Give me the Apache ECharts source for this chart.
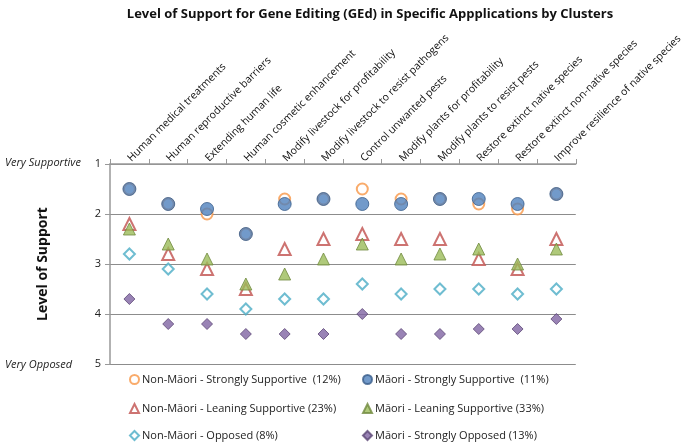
<!DOCTYPE html>
<html><head><meta charset="utf-8">
<script src="https://cdn.jsdelivr.net/npm/echarts@6/dist/echarts.min.js"></script>
<style>html,body{margin:0;padding:0;background:#fff}#c{width:685px;height:442px}</style>
</head><body><div id="c"></div>
<script>
const categories = ["Human medical treatments","Human reproductive barriers","Extending human life","Human cosmetic enhancement","Modify livestock for profitability","Modify livestock to resist pathogens","Control unwanted pests","Modify plants for profitability","Modify plants to resist pests","Restore extinct native species","Restore extinct non-native species","Improve resilience of native species"];
const nonMaoriStrongSupport = [1.5,1.8,2.0,2.4,1.7,1.7,1.5,1.7,1.7,1.8,1.9,1.6];
const maoriStrongSupport    = [1.5,1.8,1.9,2.4,1.8,1.7,1.8,1.8,1.7,1.7,1.8,1.6];
const nonMaoriLeaning       = [2.2,2.8,3.1,3.5,2.7,2.5,2.4,2.5,2.5,2.9,3.1,2.5];
const maoriLeaning          = [2.3,2.6,2.9,3.4,3.2,2.9,2.6,2.9,2.8,2.7,3.0,2.7];
const nonMaoriOpposed       = [2.8,3.1,3.6,3.9,3.7,3.7,3.4,3.6,3.5,3.5,3.6,3.5];
const maoriStrongOpposed    = [3.7,4.2,4.2,4.4,4.4,4.4,4.0,4.4,4.4,4.3,4.3,4.1];
const seriesNames = ["Non-Māori - Strongly Supportive  (12%)","Māori - Strongly Supportive  (11%)","Non-Māori - Leaning Supportive (23%)","Māori - Leaning Supportive (33%)","Non-Māori - Opposed (8%)","Māori - Strongly Opposed (13%)"];
const yTicks = [1,2,3,4,5];

const font = "'Open Sans', 'Noto Sans', sans-serif";
const chart = echarts.init(document.getElementById('c'), null, {renderer:'canvas'});
const mk = (name, data, symbol, size, color, border, filled, bw) => ({
  name, type:'scatter', data, symbol, symbolSize:size,
  itemStyle: filled ? {color, borderColor:border, borderWidth:bw} : {color:'#fff', borderColor:color, borderWidth:bw},
  emphasis:{disabled:true}
});
const series = [
  mk(seriesNames[0], nonMaoriStrongSupport, 'circle', 11, '#F79646', null, false, 2),
  mk(seriesNames[1], maoriStrongSupport, 'circle', 13, '#4F81BD', '#385D8A', true, 1),
  mk(seriesNames[2], nonMaoriLeaning, 'triangle', 12, '#C0504D', null, false, 2),
  mk(seriesNames[3], maoriLeaning, 'triangle', 12, '#9BBB59', '#71893F', true, 1),
  mk(seriesNames[4], nonMaoriOpposed, 'diamond', 11, '#4BACC6', null, false, 2),
  mk(seriesNames[5], maoriStrongOpposed, 'diamond', 11, '#8064A2', '#5C4776', true, 1)
];
const legendPos = [[129,374],[362,374],[129,403],[362,403],[129,430],[362,430]];
const legends = seriesNames.map((n,i)=>({
  orient:'horizontal', left:legendPos[i][0], top:legendPos[i][1], itemWidth:9, itemHeight:9, padding:0,
  textStyle:{fontFamily:font, fontSize:11, color:'#222', padding:[0,0,0,-2]}, selectedMode:false, data:[n]
}));
chart.setOption({
  animation:false,
  title:{text:'Level of Support for Gene Editing (GEd) in Specific Appplications by Clusters', left:365, textAlign:'center', top:3, textStyle:{fontFamily:font, fontSize:13, fontWeight:'bold', color:'#111'}},
  grid:{left:110, right:104, top:164, bottom:78, containLabel:false},
  xAxis:{type:'category', data:categories, position:'top', boundaryGap:true,
    axisLine:{lineStyle:{color:'#999', width:1.5}}, axisTick:{show:true, length:5, lineStyle:{color:'#999'}},
    axisLabel:{rotate:-45, interval:0, margin:4, fontFamily:font, fontSize:10.5, color:'#111'}},
  yAxis:{type:'value', inverse:true, min:1, max:5, interval:1,
    axisLine:{show:true, lineStyle:{color:'#999', width:1.5}}, axisTick:{show:true, length:5, lineStyle:{color:'#999'}},
    axisLabel:{margin:9, fontFamily:font, fontSize:11, color:'#222', formatter:v=>yTicks.includes(v)?String(v):''},
    splitLine:{show:true, lineStyle:{color:'#8c8c8c', width:1}},
    name:'Level of Support', nameLocation:'middle', nameGap:60, nameRotate:90,
    nameTextStyle:{fontFamily:font, fontSize:14, fontWeight:'bold', color:'#111'}},
  legend:legends,
  graphic:[
    {type:'text', left:5, top:157, style:{text:'Very Supportive', fontFamily:font, fontSize:11, fontStyle:'italic', fill:'#222'}},
    {type:'text', left:5, top:359, style:{text:'Very Opposed', fontFamily:font, fontSize:11, fontStyle:'italic', fill:'#222'}}
  ],
  series
});
</script></body></html>
